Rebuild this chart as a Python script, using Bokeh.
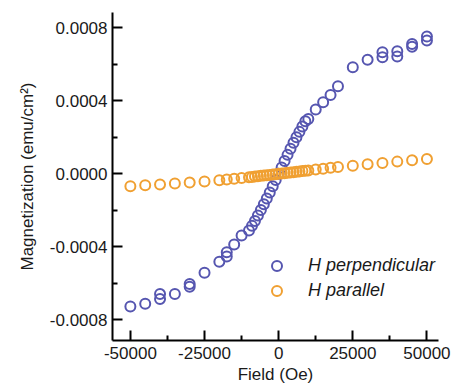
from bokeh.plotting import figure
from bokeh.models import Range1d, FixedTicker, PrintfTickFormatter, Legend, LegendItem
from bokeh.embed import file_html
from bokeh.resources import INLINE

# H perpendicular (blue) -- field (Oe) and magnetization (emu/cm^2)
perp_field = [-50000, -45000, -40000, -40000, -35000, -30000, -30000, -25000,
              -20000, -17500, -17500, -15000, -12500, -10000,
              -9000, -8000, -7000, -6000, -5000, -4000, -3000, -2000, -1000, 0,
              1000, 2000, 3000, 4000, 5000, 6000, 7000, 8000, 9000,
              10000, 12500, 15000, 17500, 20000, 25000, 30000,
              35000, 35000, 40000, 40000, 45000, 45000, 50000, 50000]
perp_mag = [-0.000727, -0.000712, -0.000685, -0.000658, -0.000658, -0.000618, -0.000603, -0.000542,
            -0.000481, -0.000453, -0.000430, -0.000387, -0.000338, -0.000310,
            -0.000285, -0.000258, -0.000228, -0.000198, -0.000167, -0.000135, -0.000102, -0.000068, -0.000034, 0.0,
            0.000035, 0.000070, 0.000104, 0.000138, 0.000170, 0.000200, 0.000230, 0.000260, 0.000288,
            0.000300, 0.000352, 0.000392, 0.000432, 0.000480, 0.000584, 0.000625,
            0.000666, 0.000639, 0.000672, 0.000643, 0.000712, 0.000697, 0.000752, 0.000731]

# H parallel (orange)
par_field = [-50000, -45000, -40000, -35000, -30000, -25000, -20000, -17500, -15000, -12500, -10000,
             -9000, -8000, -7000, -6000, -5000, -4000, -3000, -2000, -1000, 0,
             1000, 2000, 3000, 4000, 5000, 6000, 7000, 8000, 9000,
             10000, 12500, 15000, 17500, 20000, 25000, 30000, 35000, 40000, 45000, 50000]
par_mag = [-0.000068, -0.000063, -0.000058, -0.000053, -0.000048, -0.000042, -0.000035, -0.000031, -0.000027, -0.000023, -0.000019,
           -0.000017, -0.000015, -0.000013, -0.000011, -0.000009, -0.0000075, -0.0000056, -0.0000037, -0.0000019, 0.0,
           0.0000019, 0.0000037, 0.0000056, 0.0000075, 0.000009, 0.000011, 0.000013, 0.000015, 0.000017,
           0.000019, 0.000024, 0.000028, 0.000033, 0.000037, 0.000045, 0.000053, 0.000060, 0.000067, 0.000074, 0.000081]

x_ticks = [-50000, -25000, 0, 25000, 50000]
x_minor = [-37500, -12500, 12500, 37500]
y_ticks = [-0.0008, -0.0004, 0.0, 0.0004, 0.0008]
y_minor = [-0.0006, -0.0002, 0.0002, 0.0006]

series_labels = ["H perpendicular", "H parallel"]
blue = "#5656b0"
orange = "#f0a032"
FONT = "Liberation Sans"

p = figure(width=453, height=389, output_backend="svg", toolbar_location=None,
           x_range=Range1d(-56030, 53900), y_range=Range1d(-0.000913, 0.000884),
           min_border_left=112, min_border_right=15, min_border_top=12, min_border_bottom=49)
p.background_fill_color = "white"
p.outline_line_color = None
p.grid.visible = False

r1 = p.scatter(perp_field, perp_mag, marker="circle", size=10, fill_color=None,
               line_color=blue, line_width=2)
r2 = p.scatter(par_field, par_mag, marker="circle", size=10, fill_color=None,
               line_color=orange, line_width=2)

for ax in (p.xaxis[0], p.yaxis[0]):
    ax.axis_line_width = 2
    ax.axis_line_color = "black"
    ax.major_tick_in = 10
    ax.major_tick_out = 0
    ax.minor_tick_in = 5
    ax.minor_tick_out = 0
    ax.major_tick_line_width = 2
    ax.minor_tick_line_width = 2
    ax.major_label_text_font = FONT
    ax.major_label_text_font_size = "17px"
    ax.major_label_text_color = "#1a1a1a"
    ax.axis_label_text_font = FONT
    ax.axis_label_text_font_size = "17px"
    ax.axis_label_text_font_style = "normal"
    ax.axis_label_text_color = "#1a1a1a"

p.xaxis[0].ticker = FixedTicker(ticks=x_ticks, minor_ticks=x_minor)
p.yaxis[0].ticker = FixedTicker(ticks=y_ticks, minor_ticks=y_minor)
p.xaxis[0].formatter = PrintfTickFormatter(format="%d")
p.yaxis[0].formatter = PrintfTickFormatter(format="%.4f")
p.xaxis[0].axis_label = "Field (Oe)"
p.yaxis[0].axis_label = "Magnetization (emu/cm²)"
p.xaxis[0].major_label_standoff = 6
p.xaxis[0].axis_label_standoff = 3
p.yaxis[0].major_label_standoff = 5
p.yaxis[0].axis_label_standoff = 10

legend = Legend(items=[LegendItem(label=series_labels[0], renderers=[r1]),
                       LegendItem(label=series_labels[1], renderers=[r2])],
                location=(152, 37), padding=0, margin=0, spacing=0,
                glyph_width=25, glyph_height=25, label_height=25, label_standoff=19,
                label_text_font=FONT, label_text_font_style="italic",
                label_text_font_size="18px", label_text_color="#1a1a1a",
                border_line_color=None, background_fill_alpha=0)
p.add_layout(legend, "center")

open("out.html", "w").write(file_html(p, INLINE))
